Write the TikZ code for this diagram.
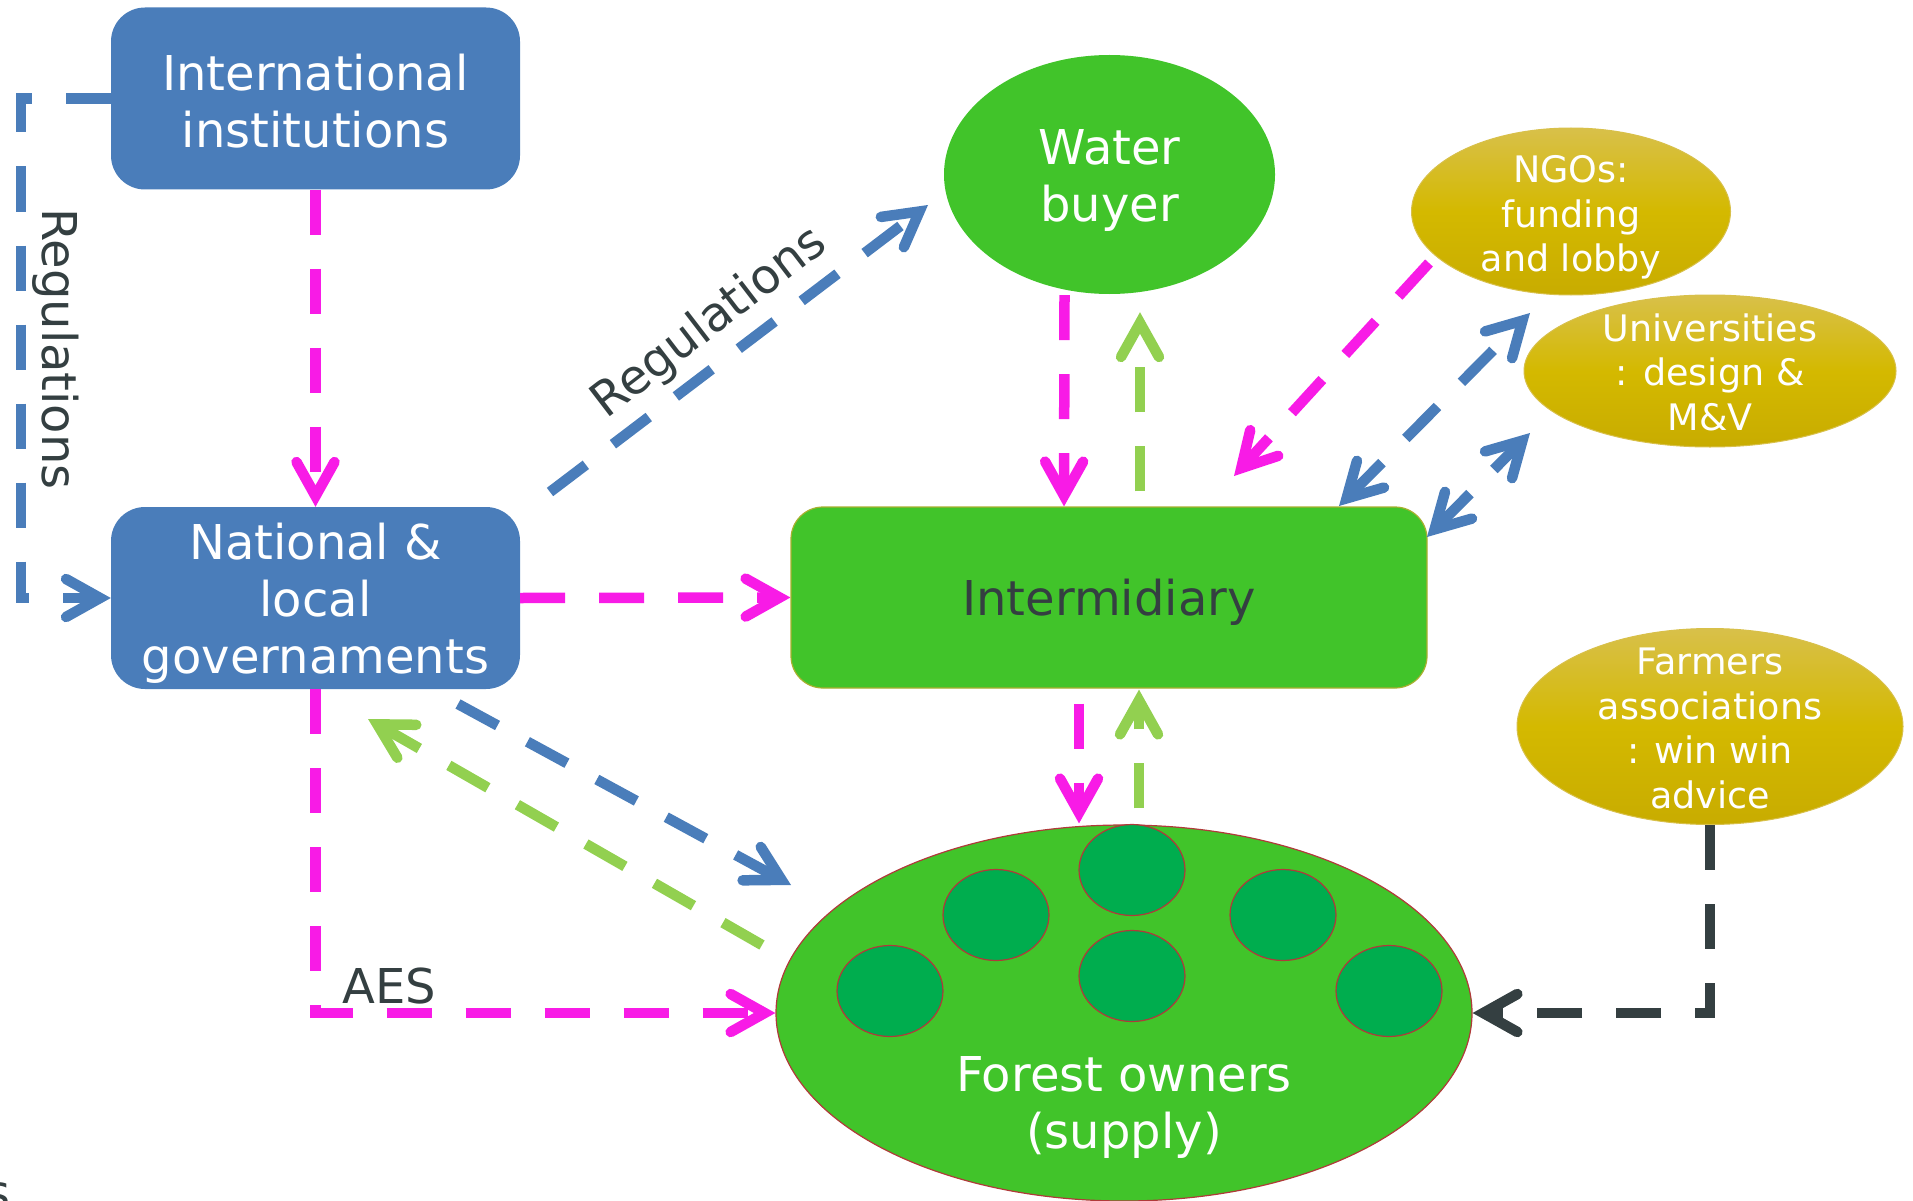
\documentclass[tikz,border=0pt]{standalone}
\usepackage{fontspec}
\setmainfont{DejaVu Sans}
\usetikzlibrary{shapes.geometric,arrows.meta,calc}
\definecolor{boxblue}{HTML}{4A7DBA}
\definecolor{lgreen}{HTML}{41C42A}
\definecolor{dgreen}{HTML}{00AD4E}
\definecolor{mag}{HTML}{F81BE6}
\definecolor{lgarrow}{HTML}{92D050}
\definecolor{dgray}{HTML}{343F41}
\definecolor{goldA}{HTML}{D8C04A}
\definecolor{goldB}{HTML}{D4B900}
\definecolor{goldC}{HTML}{C8AC00}
\definecolor{outred}{HTML}{B03A3A}
\definecolor{olivec}{HTML}{A8B030}
\begin{document}
\begin{tikzpicture}[x=1pt,y=-1pt,
  bigfont/.style={font=\fontsize{48}{57}\selectfont},
  smallfont/.style={font=\fontsize{36.5}{44.5}\selectfont},
  bluebox/.style={fill=boxblue, rounded corners=34pt, minimum width=409pt, minimum height=182pt, inner sep=0},
  bigtext/.style={text=white, align=center, bigfont, inner sep=0},
  goldell/.style={ellipse, top color=goldA, bottom color=goldC, middle color=goldB, draw=goldA, line width=1pt, inner sep=0},
  goldtext/.style={text=white, align=center, smallfont, inner sep=0},
  tree/.style={ellipse, fill=dgreen, draw=outred, line width=1.2pt, minimum width=106pt, minimum height=91pt, inner sep=0},
  >={Straight Barb[length=34pt,width=38pt,line cap=round,line join=miter]},
  conn/.style={line width=10.5pt, dash pattern=on 45pt off 34pt, ->},
  conn2/.style={line width=10.5pt, dash pattern=on 45pt off 34pt, <->},
  lbl/.style={text=dgray, bigfont, inner sep=0}
]
\useasboundingbox (0,0) rectangle (1913,1201);

% nodes
\node[bluebox] (intl) at (315.5,98.5) {};
\node[bigtext] (intlt) at ($(intl)+(0,3)$) {International\\institutions};
\node[bluebox] (natl) at (315.5,598) {};
\node[bigtext] (natlt) at ($(natl)+(0,5)$) {National \&\\local\\governaments};
\node[ellipse, fill=lgreen, minimum width=331pt, minimum height=239pt, inner sep=0] (wb) at (1109.5,174.5) {};
\node[bigtext] (wbt) at ($(wb)+(0,6)$) {Water\\buyer};
\node[goldell, minimum width=319pt, minimum height=167pt] (ngo) at (1571,211.5) {};
\node[goldtext] (ngot) at ($(ngo)+(0,6)$) {NGOs:\\funding\\and lobby};
\node[goldell, minimum width=372pt, minimum height=152pt] (uni) at (1710,371) {};
\node[goldtext] (unit) at ($(uni)+(0,1)$) {Universities\\: design \&\\M\&V};
\node[rectangle, rounded corners=32pt, fill=lgreen, draw=olivec, line width=1.2pt, minimum width=636pt, minimum height=181pt, inner sep=0] (intm) at (1109,597.5) {};
\node[bigtext, text=dgray] (intmt) at ($(intm)+(0,5)$) {Intermidiary};
\node[goldell, minimum width=386pt, minimum height=196pt] (farm) at (1710,726.5) {};
\node[goldtext] (farmt) at ($(farm)+(0,2)$) {Farmers\\associations\\: win win\\advice};
\node[ellipse, fill=lgreen, draw=outred, line width=1.2pt, minimum width=696pt, minimum height=376pt, inner sep=0] (forest) at (1124,1013) {};
\node[tree] (t1) at (890,991) {};
\node[tree] (t2) at (996,915) {};
\node[tree] (t3) at (1132,870) {};
\node[tree] (t4) at (1132,976) {};
\node[tree] (t5) at (1283,915) {};
\node[tree] (t6) at (1389,991) {};
\node[bigtext] (fot) at (1124,1107) {Forest owners\\(supply)};

% labels
\node[lbl, rotate=-90] (reg1) at (56,349) {Regulations};
\node[lbl, rotate=37.5] (reg2) at (710,323) {Regulations};
\node[lbl] (aes) at (389,986) {AES};
\node[lbl, anchor=base west] (frag) at (-15,1209) {s};

% free ends
\coordinate (rs) at (550,492);
\coordinate (re) at (928,205);
\coordinate (ns) at (1429,263);
\coordinate (ne) at (1234,476);
\coordinate (a1) at (1339,506);
\coordinate (a2) at (1530,313);
\coordinate (b1) at (1427,537);
\coordinate (b2) at (1530,433);
\coordinate (c1) at (458,704);
\coordinate (c2) at (791,885);
\coordinate (d1) at (762,945);
\coordinate (d2) at (368,719);

% connectors
\draw[conn, mag] (intl.south) -- (natl.north);
\draw[conn, mag] (natl.east) -- (intm.west);
\draw[conn, mag] (natl.south) |- (forest.west);
\draw[conn, dgray] (farm.south) |- (forest.east);
\draw[conn, boxblue] (intl.west) -- ++(-90,0) |- (natl.west);
\draw[conn, boxblue] (rs) -- (re);
\draw[conn, mag] ($(wb.south)+(-45,1)$) -- ($(intm.north)+(-45,0)$);
\draw[conn, lgarrow] ($(intm.north)+(31,-15)$) -- ($(wb.south)+(30.5,18)$);
\draw[conn, mag] ($(intm.south)+(-30,15)$) -- ($(forest.north)+(-45,-1)$);
\draw[conn, lgarrow] ($(forest.north)+(15,-16)$) -- ($(intm.south)+(30,1)$);
\draw[conn, mag] (ns) -- (ne);
\draw[conn2, boxblue] (a1) -- (a2);
\draw[conn2, boxblue] (b1) -- (b2);
\draw[conn, boxblue] (c1) -- (c2);
\draw[conn, lgarrow] (d1) -- (d2);
\end{tikzpicture}
\end{document}
